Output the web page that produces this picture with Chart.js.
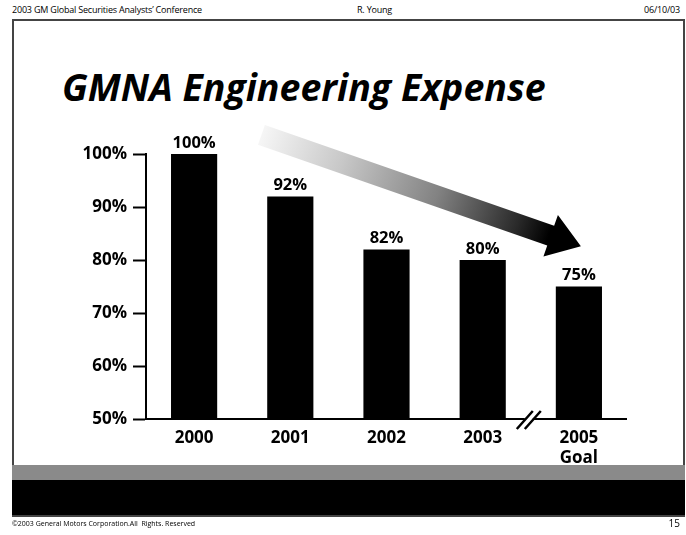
<!DOCTYPE html>
<html lang="en">
<head>
    <meta charset="utf-8">
    <title>GMNA Engineering Expense</title>
    <script src="https://cdn.jsdelivr.net/npm/chart.js"></script>
    <style>
        body { margin: 0; background: #fff; }
        #slide {
            position: relative;
            width: 686px;
            height: 535px;
            overflow: hidden;
            font-family: 'Open Sans', sans-serif;
            color: #000;
        }
        .txt { position: absolute; white-space: nowrap; line-height: 1; }
        #frame {
            position: absolute;
            left: 12px; top: 19px;
            width: 669px; height: 494px;
            border: 2px solid #444;
        }
        #band-gray {
            position: absolute;
            left: 12px; top: 465px;
            width: 673px; height: 15px;
            background: #8a8a8a;
        }
        #band-black {
            position: absolute;
            left: 12px; top: 480px;
            width: 673px; height: 35px;
            background: #000;
        }
        #myChart { position: absolute; left: 0; top: 0; }
    </style>
</head>
<body>
    <div id="slide">
        <div class="txt" style="left:12px; top:5px; font-size:9px; letter-spacing:-0.2px;">2003 GM Global Securities Analysts&#8217; Conference</div>
        <div class="txt" style="left:357px; top:5px; font-size:9px; letter-spacing:-0.2px;">R. Young</div>
        <div class="txt" style="right:6px; top:5px; font-size:9px; letter-spacing:-0.2px;">06/10/03</div>

        <div id="frame"></div>
        <div id="band-gray"></div>
        <div id="band-black"></div>

        <div class="txt" style="left:62px; top:68px; font-size:37.5px; font-weight:bold; font-style:italic;">GMNA Engineering Expense</div>

        <canvas id="myChart" width="686" height="535"></canvas>

        <div class="txt" style="left:12px; top:520px; font-size:7px;">&#169;2003 General Motors Corporation.All&nbsp; Rights. Reserved</div>
        <div class="txt" style="right:6px; top:518px; font-size:10px;">15</div>
    </div>

<script>
    // data
    const years = ['2000', '2001', '2002', '2003', ['2005', 'Goal']];
    const expense = [100, 92, 82, 80, 75];   // % of 2000 level
    const yTicks = [50, 60, 70, 80, 90, 100];

    const FONT = "'Open Sans', sans-serif";

    // value labels over the bars
    const barLabels = {
        id: 'barLabels',
        afterDatasetsDraw(chart) {
            const ctx = chart.ctx;
            const meta = chart.getDatasetMeta(0);
            ctx.save();
            ctx.font = "bold 16.5px " + FONT;
            ctx.fillStyle = '#000';
            ctx.textAlign = 'center';
            ctx.textBaseline = 'middle';
            meta.data.forEach((bar, i) => {
                ctx.fillText(expense[i] + '%', bar.x, bar.y - 11);
            });
            ctx.restore();
        }
    };

    // x axis line with the "//" break between 2003 and 2005, plus the trend arrow
    const decorations = {
        id: 'decorations',
        afterDraw(chart) {
            const ctx = chart.ctx;
            const x = chart.scales.x, y = chart.scales.y;
            const area = chart.chartArea;
            const step = x.getPixelForValue(1) - x.getPixelForValue(0);
            const yb = area.bottom;

            // axis with break
            const mid = (x.getPixelForValue(3) + x.getPixelForValue(4)) / 2 - 2;
            ctx.save();
            ctx.strokeStyle = '#000';
            ctx.lineWidth = 2;
            ctx.beginPath();
            ctx.moveTo(area.left - 1, yb);
            ctx.lineTo(mid - 4, yb);
            ctx.moveTo(mid + 4, yb);
            ctx.lineTo(area.right, yb);
            ctx.stroke();
            ctx.lineWidth = 2.5;
            ctx.beginPath();
            [-4, 4].forEach(d => {
                ctx.moveTo(mid + d - 8, yb + 10);
                ctx.lineTo(mid + d + 8, yb - 8);
            });
            ctx.stroke();

            // gradient arrow from above 2000 down to the 2005 goal
            const sx = x.getPixelForValue(0) + 0.7 * step, sy = y.getPixelForValue(103.6);
            const tx = x.getPixelForValue(4) + 2, ty = y.getPixelForValue(82.6);
            const ang = Math.atan2(ty - sy, tx - sx);
            const len = Math.hypot(tx - sx, ty - sy);
            const headLen = 32, half = 10.5, headHalf = 22;
            ctx.translate(sx, sy);
            ctx.rotate(ang);
            const g = ctx.createLinearGradient(0, 0, len, 0);
            g.addColorStop(0, '#f6f6f6');
            g.addColorStop(0.25, '#c8c8c8');
            g.addColorStop(0.55, '#828282');
            g.addColorStop(0.8, '#2a2a2a');
            g.addColorStop(0.9, '#000');
            ctx.fillStyle = g;
            ctx.beginPath();
            ctx.moveTo(0, -half);
            ctx.lineTo(len - headLen, -half);
            ctx.lineTo(len - headLen, -headHalf);
            ctx.lineTo(len, 0);
            ctx.lineTo(len - headLen, headHalf);
            ctx.lineTo(len - headLen, half);
            ctx.lineTo(0, half);
            ctx.closePath();
            ctx.fill();
            ctx.restore();
        }
    };

    const ctx = document.getElementById('myChart');

    const myChart = new Chart(ctx, {
        type: 'bar',
        data: {
            labels: years,
            datasets: [{
                label: 'Engineering expense',
                data: expense,
                backgroundColor: '#000',
                borderWidth: 0,
                barPercentage: 0.48,
                categoryPercentage: 1
            }]
        },
        options: {
            responsive: false,
            animation: false,
            devicePixelRatio: 1,
            layout: { padding: { top: 154, right: 59, left: 0, bottom: 0 } },
            plugins: {
                legend: { display: false },
                title: { display: false },
                tooltip: { enabled: false }
            },
            scales: {
                x: {
                    afterFit(scale) { scale.height = 116; },
                    grid: { display: false, drawTicks: false },
                    border: { display: false },
                    ticks: {
                        color: '#000',
                        padding: 9,
                        maxRotation: 0,
                        font: { family: FONT, size: 17, weight: 'bold', lineHeight: 1.2 }
                    }
                },
                y: {
                    min: 50,
                    max: 100,
                    afterFit(scale) { scale.width = 146; },
                    afterBuildTicks(scale) { scale.ticks = yTicks.map(v => ({ value: v })); },
                    grid: {
                        display: true,
                        drawOnChartArea: false,
                        drawTicks: true,
                        tickLength: 13,
                        tickColor: '#000',
                        tickWidth: 2
                    },
                    border: { display: true, color: '#000', width: 2 },
                    ticks: {
                        color: '#000',
                        padding: 6,
                        callback: v => v + '%',
                        font: { family: FONT, size: 17, weight: 'bold' }
                    }
                }
            }
        },
        plugins: [barLabels, decorations]
    });
</script>
</body>
</html>
